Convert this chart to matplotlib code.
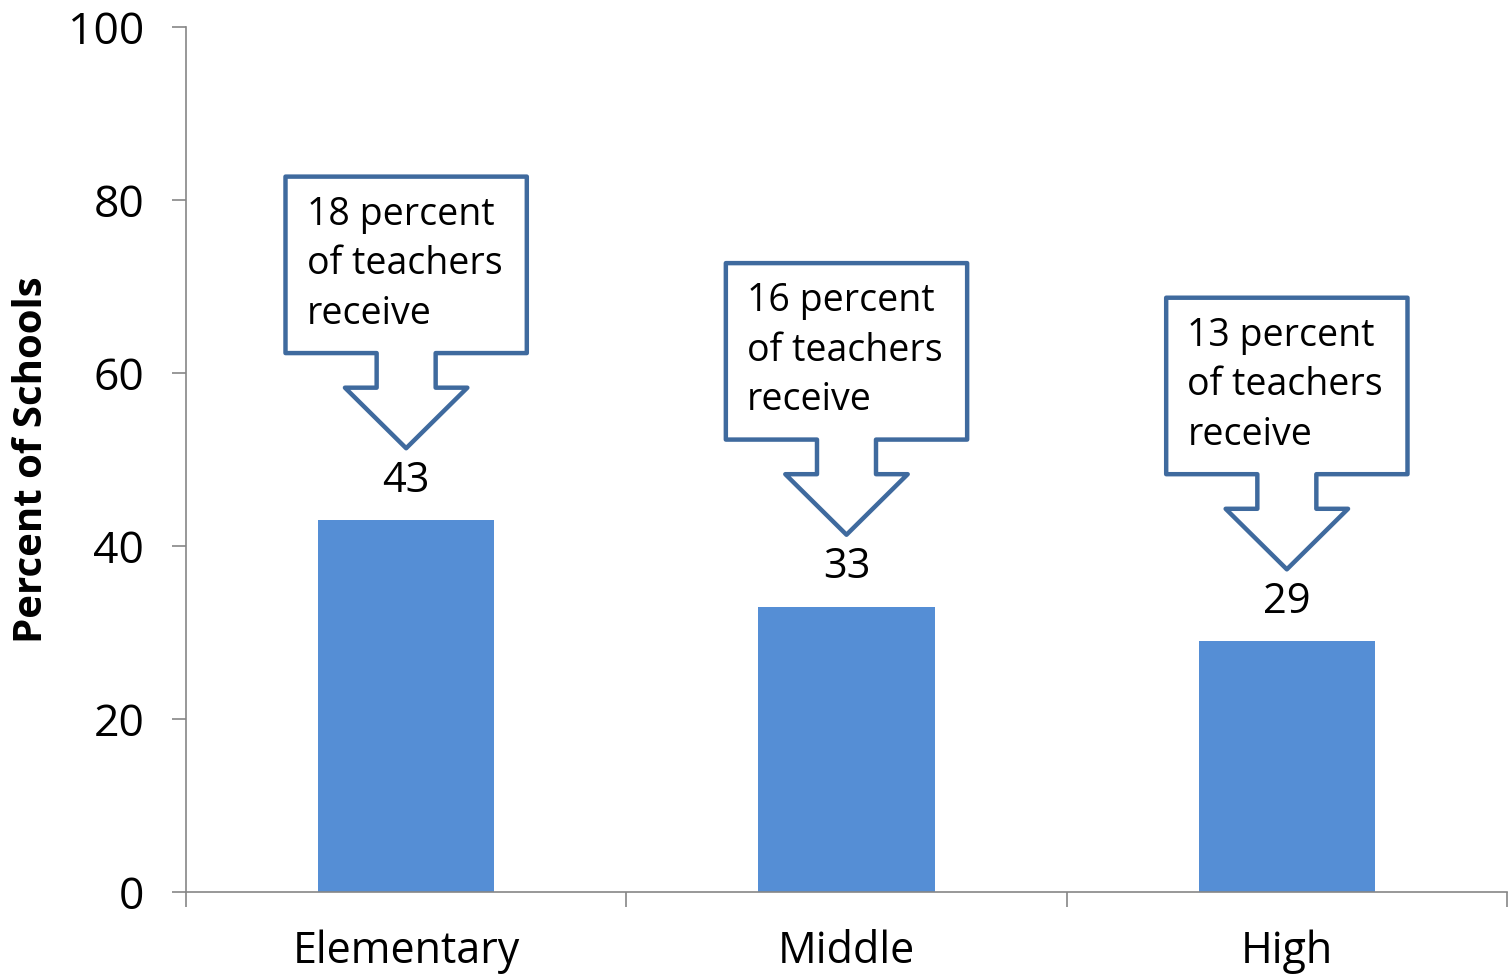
import matplotlib.pyplot as plt
from matplotlib.patches import Polygon
import numpy as np

# data
levels = ['Elementary', 'Middle', 'High']
pct_schools = [43, 33, 29]
pct_teachers = [18, 16, 13]

bar_color = '#558ed5'
edge_color = '#3f6a9e'
axis_color = '#868686'
plt.rcParams['font.family'] = ['Open Sans', 'DejaVu Sans']

fig = plt.figure(figsize=(15.12, 9.77), dpi=100)
ax = fig.add_axes([0.123, 0.087, 0.8737, 0.8854])

x = np.arange(len(levels))
ax.bar(x, pct_schools, width=0.4, color=bar_color, zorder=2)

# value labels above bars
for xi, v in zip(x, pct_schools):
    ax.annotate(str(v), (xi, v), xytext=(0, 13), textcoords='offset points',
                ha='center', va='bottom', fontsize=30)

# arrow callouts
bw, sw, hw = 0.274, 0.067, 0.139
for xi, v, t in zip(x, pct_schools, pct_teachers):
    tip = v + 8.3
    wing = tip + 7.0
    bot = wing + 4.0
    top = bot + 20.4
    pts = [(xi - bw, top), (xi + bw, top), (xi + bw, bot), (xi + sw, bot),
           (xi + sw, wing), (xi + hw, wing), (xi, tip), (xi - hw, wing),
           (xi - sw, wing), (xi - sw, bot), (xi - bw, bot)]
    ax.add_patch(Polygon(pts, closed=True, facecolor='white', edgecolor=edge_color,
                         linewidth=3.2, joinstyle='round', zorder=3))
    ax.text(xi - bw + 0.048, top - 2.2, f'{t} percent\nof teachers\nreceive',
            ha='left', va='top', fontsize=27, linespacing=1.4, zorder=4)

ax.set_xlim(-0.5, 2.5)
ax.set_ylim(0, 100)
ax.set_yticks(range(0, 101, 20))
ax.set_xticks(x)
ax.set_xticklabels(levels, fontsize=31)
ax.set_xticks([-0.5, 0.5, 1.5, 2.5], minor=True)
ax.tick_params(axis='x', which='major', length=0, pad=27)
ax.tick_params(axis='x', which='minor', length=11, width=1.2, color=axis_color)
ax.tick_params(axis='y', length=10, width=1.2, color=axis_color, labelsize=32, pad=20)
ax.set_ylabel('Percent of Schools', fontsize=29, fontweight='bold', labelpad=12)

for s in ['top', 'right']:
    ax.spines[s].set_visible(False)
for s in ['left', 'bottom']:
    ax.spines[s].set_color(axis_color)
    ax.spines[s].set_linewidth(1.2)

plt.savefig('out.png', dpi=100)
